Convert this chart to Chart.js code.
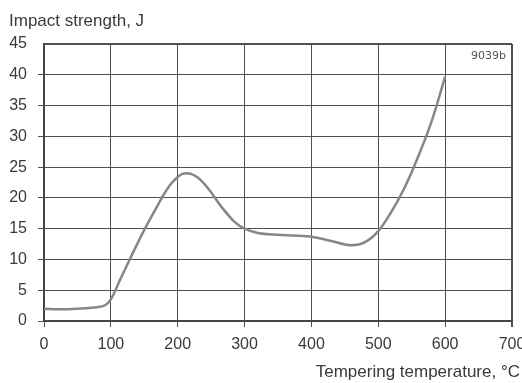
<!DOCTYPE html>
<html>
<head>
<meta charset="utf-8">
<script src="https://cdn.jsdelivr.net/npm/chart.js@4/dist/chart.umd.min.js"></script>
<style>
  html, body { margin: 0; padding: 0; background: #fff; }
  #wrap { width: 522px; height: 383px; position: relative; }
</style>
</head>
<body>
<div id="wrap"><canvas id="c" width="522" height="383"></canvas></div>
<script>
// Data
const temperatures = [0, 25, 50, 75, 92, 100, 115, 130, 150, 170, 180, 190, 200, 207, 213, 220, 230, 245, 265, 285, 300, 320, 350, 400, 430, 460, 480, 500, 520, 540, 560, 580, 600];
const impactStrength = [2.0, 1.9, 2.0, 2.2, 2.6, 3.5, 7, 10.4, 14.8, 18.8, 20.7, 22.3, 23.4, 23.9, 24.0, 23.9, 23.3, 21.6, 18.6, 16.1, 15, 14.3, 14.0, 13.7, 13.0, 12.3, 12.8, 14.6, 17.8, 21.8, 26.8, 32.5, 39.7];
const xTicks = [0, 100, 200, 300, 400, 500, 600, 700];
const yTicks = [0, 5, 10, 15, 20, 25, 30, 35, 40, 45];
const yTitle = 'Impact strength, J';
const xTitle = 'Tempering temperature, °C';
const figureCode = '9039b';

const points = temperatures.map((t, i) => ({ x: t, y: impactStrength[i] }));
const FONT = "'Liberation Sans', Arial, Helvetica, sans-serif";
const TEXT = '#3a3a3a';
const GRID = '#505050';

const textPlugin = {
  id: 'texts',
  afterDraw(chart) {
    const ctx = chart.ctx;
    const a = chart.chartArea;
    ctx.save();
    ctx.fillStyle = TEXT;
    ctx.textBaseline = 'alphabetic';
    ctx.font = '17px ' + FONT;
    ctx.textAlign = 'left';
    ctx.fillText(yTitle, 9, 26);
    ctx.textAlign = 'right';
    ctx.fillText(xTitle, 520, 377);
    ctx.font = "11px 'DejaVu Sans', sans-serif";
    ctx.fillStyle = '#555';
    ctx.fillText(figureCode, a.right - 6, a.top + 15);
    ctx.restore();
  }
};

new Chart(document.getElementById('c'), {
  type: 'scatter',
  data: {
    datasets: [{
      data: points,
      showLine: true,
      borderColor: '#868686',
      borderWidth: 2.5,
      pointRadius: 0,
      cubicInterpolationMode: 'monotone',
      fill: false
    }]
  },
  options: {
    responsive: false,
    animation: false,
    devicePixelRatio: 1,
    layout: { padding: { top: 44, right: 10, left: 0, bottom: 0 } },
    plugins: { legend: { display: false }, tooltip: { enabled: false }, title: { display: false } },
    scales: {
      x: {
        type: 'linear',
        min: 0, max: 700,
        afterBuildTicks(s) { s.ticks = xTicks.map(v => ({ value: v })); },
        afterFit(s) { s.height = 62; s.paddingLeft = 0; s.paddingRight = 0; },
        ticks: { color: TEXT, font: { size: 16, family: FONT }, padding: 8, maxRotation: 0, autoSkip: false },
        grid: { color: GRID, lineWidth: c => (c.tick && c.tick.value === 700 ? 2 : 1), tickLength: 6, tickColor: GRID },
        border: { color: '#444', width: 2 }
      },
      y: {
        min: 0, max: 45,
        afterBuildTicks(s) { s.ticks = yTicks.map(v => ({ value: v })); },
        afterFit(s) { s.width = 44; },
        ticks: { color: TEXT, font: { size: 16, family: FONT }, padding: 11 },
        grid: {
          color: GRID,
          lineWidth: c => (c.tick && c.tick.value === 45 ? 2 : 1),
          tickLength: 6,
          tickColor: c => (c.tick && c.tick.value === 45 ? 'rgba(0,0,0,0)' : GRID)
        },
        border: { color: '#444', width: 2 }
      }
    }
  },
  plugins: [textPlugin]
});
</script>
</body>
</html>
